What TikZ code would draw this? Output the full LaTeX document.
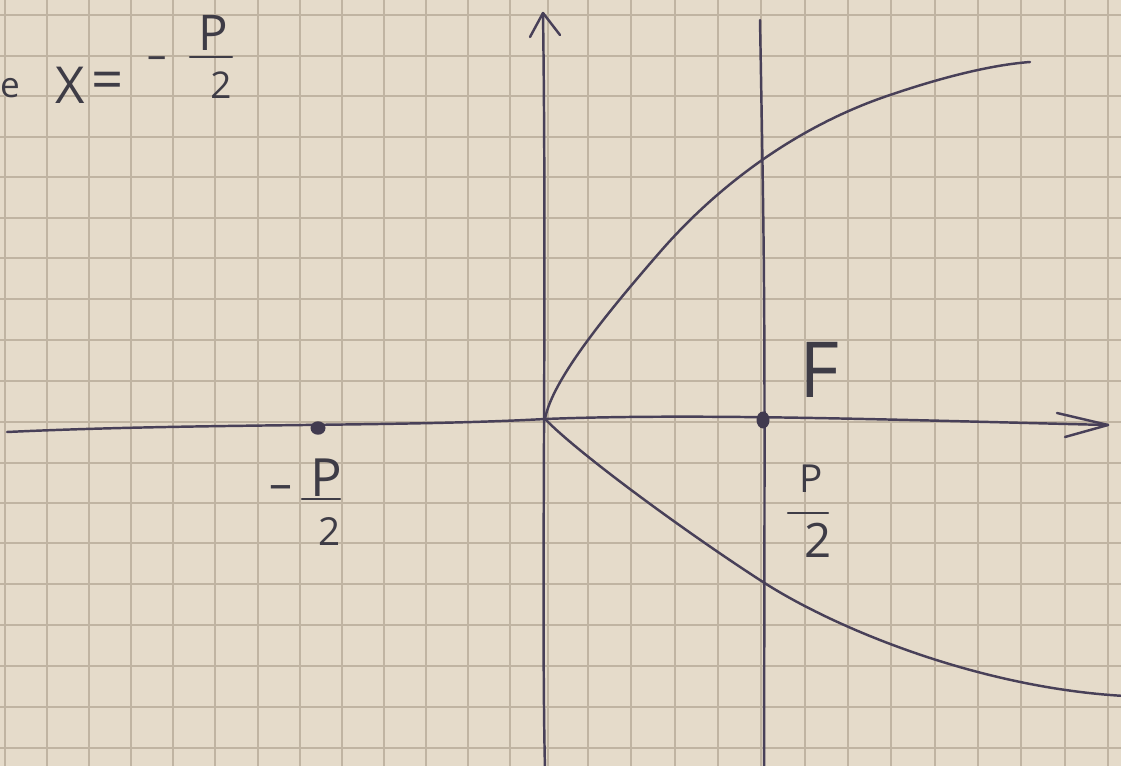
\documentclass[tikz,border=0pt]{standalone}
\usepackage{fontspec}
\setmainfont{Open Sans}
\usetikzlibrary{arrows.meta,positioning,calc,shapes.geometric}
\definecolor{paper}{RGB}{229,219,202}
\definecolor{gridln}{RGB}{192,180,162}
\definecolor{ink}{RGB}{72,64,88}
\definecolor{lblink}{RGB}{62,60,70}
\newcommand{\fsz}[1]{\fontsize{#1}{#1}\selectfont}
\tikzset{
  pen/.style={ink, line width=1.4pt, line cap=round, line join=round},
  sq/.style={gridln, line width=0.9pt},
  fdot/.style={ellipse, fill=ink!90!black, inner sep=0pt, minimum width=0.26cm, minimum height=0.34cm},
  lbl/.style={text=lblink, inner sep=0pt},
  fbar/.style={lblink, line width=1.3pt, line cap=round},
}

\begin{document}
\begin{tikzpicture}[x=0.02cm, y=-0.02cm]
  \useasboundingbox (0,0) rectangle (1121,766);
  \clip (0,0) rectangle (1121,766);
  \fill[paper] (0,0) rectangle (1121,766);
  % squared paper
  \foreach \gx in {5,47,89,131,173,215,258,300,342,384,426,468,510,548,588,631,675,718,761,805,848,891,935,978,1021,1065,1108}
    \draw[sq] (\gx,0) -- (\gx,766);
  \foreach \gy in {15,56,96,137,177,218,258,299,340,381,422,463,503,543,584,625,666,707,748}
    \draw[sq] (0,\gy) -- (1121,\gy);

  % axes
  \coordinate (O) at (545,419);
  \coordinate (xw) at (7,432);
  \coordinate (xe) at (1108,425);
  \coordinate (ys) at (545,770);
  \coordinate (yn) at (543,13);
  \draw[pen] (xw) .. controls (200,423) and (400,427) .. (O)
             .. controls (700,413) and (900,420) .. (xe);
  \draw[pen] (1057,413) -- (xe) -- (1065,437);
  \draw[pen] (ys) .. controls (541,600) and (547,300) .. (yn);
  \draw[pen] (530,37) -- (yn) -- (560,35);

  % parabola
  \draw[pen] (O) .. controls (552,380) and (607,313) .. (660,252)
             .. controls (720,183) and (800,125) .. (890,95)
             .. controls (940,78) and (990,65) .. (1030,62);
  \draw[pen] (O) .. controls (580,455) and (690,535) .. (763,582)
             .. controls (836,629) and (980,688) .. (1125,696);

  % line through F
  \coordinate (dn) at (760,20);
  \coordinate (ds) at (764,770);
  \draw[pen] (dn) .. controls (765,300) .. (ds);

  % points
  \node[fdot] (F) at (763,420) {};
  \node[fdot, minimum width=0.3cm, minimum height=0.27cm] (Fm) at (318,428) {};

  % labels
  \node[lbl, font=\fsz{44}] (flbl) at (819,370) {F};
  \node[lbl, font=\fsz{22}] (pnum) at (811,479) {P};
  \draw[fbar] (788,513) -- (828,513);
  \node[lbl, font=\fsz{27}] (pden) at (818,540) {2};

  \node[lbl, font=\fsz{26}] (mminus) at (281,493) {–};
  \node[lbl, font=\fsz{30}] (mnum) at (326,478) {P};
  \draw[fbar] (302,499) -- (340,499);
  \node[lbl, font=\fsz{22}] (mden) at (330,532) {2};

  \node[lbl, font=\fsz{20}] (ecut) at (10,88) {e};
  \node[lbl, font=\fsz{29}] (xvar) at (70,85) {X};
  \node[lbl, font=\fsz{32}] (eqs) at (108,86) {=};
  \node[lbl, font=\fsz{22}] (tminus) at (157,63) {–};
  \node[lbl, font=\fsz{28}] (tnum) at (213,33) {P};
  \draw[fbar] (190,57) -- (232,57);
  \node[lbl, font=\fsz{21}] (tden) at (221,85) {2};
\end{tikzpicture}
\end{document}
